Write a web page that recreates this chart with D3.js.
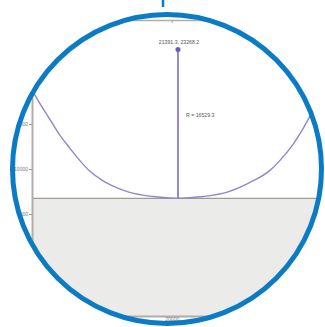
<!DOCTYPE html>
<html>
<head>
<meta charset="utf-8">
<script src="https://cdn.jsdelivr.net/npm/d3@7"></script>
<style>
  html, body { margin: 0; padding: 0; background: #ffffff; }
  svg { display: block; }
  text { font-family: "Liberation Sans", Arial, sans-serif; }
</style>
</head>
<body>
<svg id="chart" width="325" height="327"></svg>
<script>
// Curve samples (x, y) in data units
const curveX = [-11942, -9720, -7498, -4831, -2609, -831, 1836, 4724, 7613, 10280, 15836, 21391.3,
                26947, 32502, 37391, 41835, 44058, 46947, 48947, 51391, 53613];
const curveY = [19628, 17628, 15850, 13739, 12295, 11183, 9739, 8683, 7961, 7461, 6939, 6738.9,
                6939, 7461, 8517, 9850, 10961, 12739, 14295, 16517, 18739];

// Vertex, centre of curvature and radius
const vertex = { x: 21391.3, y: 6738.9 };
const centre = { x: 21391.3, y: 23268.2 };
const radius = 16529.3;

const xTicks = [10000, 20000, 30000];
const yTicks = [5000, 10000, 15000];
const xTickLabels = ["10000", "20000", "30000"];
const yTickLabels = ["5000", "10000", "15000"];

const svg = d3.select("#chart");

// Lens geometry
const cx = 167, cy = 169, ringR = 154.5;

const x = d3.scaleLinear().domain([-11053, 55169]).range([32, 330]);
const y = d3.scaleLinear().domain([-6333, 26556]).range([316, 20]);

const defs = svg.append("defs");
defs.append("clipPath").attr("id", "lens")
  .append("circle").attr("cx", cx).attr("cy", cy).attr("r", ringR - 1);
defs.append("clipPath").attr("id", "plot")
  .append("rect").attr("x", x.range()[0]).attr("y", 20)
  .attr("width", 330 - x.range()[0]).attr("height", 296);
defs.append("marker").attr("id", "dot")
  .attr("viewBox", "-3 -3 6 6").attr("markerWidth", 4).attr("markerHeight", 4)
  .attr("refX", 0).attr("refY", 0)
  .append("circle").attr("r", 2.5).attr("fill", "#6c58c4");

const g = svg.append("g").attr("clip-path", "url(#lens)");

// Shaded band below the vertex level
const plot = g.append("g").attr("clip-path", "url(#plot)");
plot.append("rect")
  .attr("x", x.range()[0]).attr("y", y(vertex.y))
  .attr("width", 330 - x.range()[0]).attr("height", y.range()[0] - y(vertex.y))
  .attr("fill", "#ebebea");
plot.append("line")
  .attr("x1", x.range()[0]).attr("x2", 330)
  .attr("y1", y(vertex.y)).attr("y2", y(vertex.y))
  .attr("stroke", "#a39a92").attr("stroke-width", 1.4);

// The curve
const pts = d3.zip(curveX, curveY);
plot.append("path")
  .datum(pts)
  .attr("fill", "none")
  .attr("stroke", "#9086cc")
  .attr("stroke-width", 1.4)
  .attr("d", d3.line().x(d => x(d[0])).y(d => y(d[1])).curve(d3.curveMonotoneX));

// Radius arrow from the vertex up to the centre of curvature
plot.append("line")
  .attr("x1", x(vertex.x)).attr("x2", x(centre.x))
  .attr("y1", y(vertex.y)).attr("y2", y(centre.y))
  .attr("stroke", "#7462c4").attr("stroke-width", 1.5)
  .attr("marker-end", "url(#dot)");

plot.append("text")
  .attr("x", x(centre.x) + 1).attr("y", y(centre.y) - 6)
  .attr("text-anchor", "middle")
  .attr("font-size", 5.2).attr("fill", "#555")
  .text(`${centre.x.toFixed(1)}, ${centre.y.toFixed(1)}`);

const yv = y(vertex.y), yc = y(centre.y);
plot.append("text")
  .attr("x", x(vertex.x) + 8)
  .attr("y", yv - 0.55 * (yv - yc))
  .attr("font-size", 5.2).attr("fill", "#555")
  .text(`R = ${radius.toFixed(1)}`);

// Axes
const axisColor = "#b3aca6";
const leftAxis = g.append("g").attr("transform", `translate(${x.range()[0]},0)`)
  .call(d3.axisLeft(y).tickValues(yTicks).tickSize(3)
    .tickFormat((d, i) => yTickLabels[i]).tickSizeOuter(0));
leftAxis.select(".domain").attr("stroke", axisColor).attr("stroke-width", 2);
leftAxis.selectAll(".tick line").attr("stroke", "#999");
leftAxis.selectAll(".tick text").attr("font-size", 5).attr("fill", "#777")
  .attr("font-family", "Liberation Sans, Arial, sans-serif").attr("x", -4);

const bottomAxis = g.append("g").attr("transform", `translate(0,${y.range()[0]})`)
  .call(d3.axisBottom(x).tickValues(xTicks).tickSize(0)
    .tickFormat((d, i) => xTickLabels[i]).tickSizeOuter(0));
bottomAxis.select(".domain").attr("stroke", axisColor).attr("stroke-width", 2);
bottomAxis.selectAll(".tick text").attr("font-size", 5).attr("fill", "#777")
  .attr("font-family", "Liberation Sans, Arial, sans-serif")
  .attr("y", 1.5).attr("dy", "0.75em");

const topAxis = g.append("g").attr("transform", `translate(0,${y.range()[1]})`)
  .call(d3.axisBottom(x).tickValues([20000]).tickSize(3).tickFormat("").tickSizeOuter(0));
topAxis.select(".domain").attr("stroke", axisColor).attr("stroke-width", 1.5);
topAxis.selectAll(".tick line").attr("stroke", "#aaa");

// Lens ring
svg.append("circle")
  .attr("cx", cx).attr("cy", cy).attr("r", ringR)
  .attr("fill", "none").attr("stroke", "#0b7bc4").attr("stroke-width", 5);
svg.append("line")
  .attr("x1", 163).attr("x2", 163).attr("y1", 0).attr("y2", 7)
  .attr("stroke", "#0b7bc4").attr("stroke-width", 2.5);
</script>
</body>
</html>
